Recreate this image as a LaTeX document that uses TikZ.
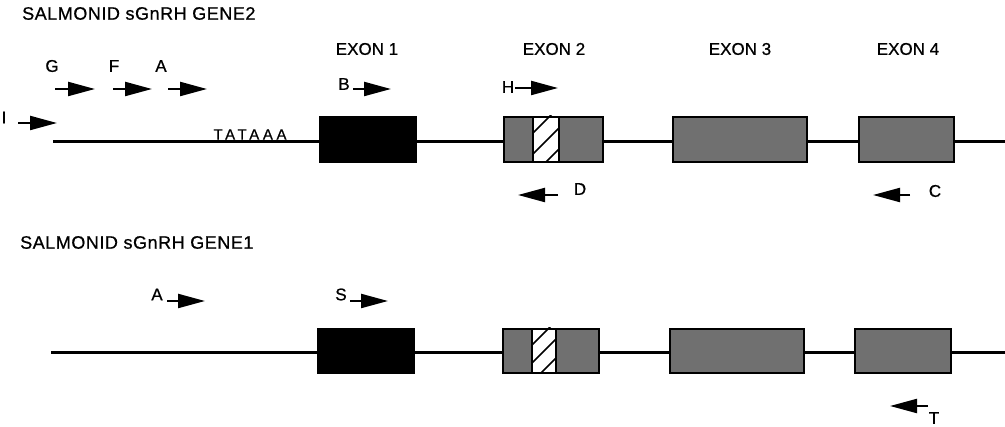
\documentclass[tikz,border=0pt]{standalone}
\usepackage{fontspec}
\setmainfont{Liberation Sans}[FakeBold=0.7]
\usetikzlibrary{arrows.meta,calc}
\begin{document}
\begin{tikzpicture}[x=1pt,y=-1pt,
  gene/.style={line width=3pt},
  exonbox/.style={draw=black, line width=2pt, anchor=north west, inner sep=0pt, minimum height=45pt},
  coding/.style={exonbox, fill=black},
  stipple/.style={exonbox, fill=black!56},
  stripe/.style={draw=black, line width=1.6pt, fill=white, anchor=north west, inner sep=0pt, minimum height=45pt, minimum width=26pt},
  hatch/.style={line width=1.6pt},
  primer/.style={line width=2.2pt, -{Triangle[length=27pt,width=14pt]}},
  lbl/.style={inner sep=0pt, font=\fontsize{17}{17}\selectfont},
  title/.style={inner sep=0pt, anchor=west, font=\fontsize{18}{18}\selectfont\addfontfeature{LetterSpace=3}},
]
\useasboundingbox (0,0) rectangle (1005,427);

% ---------------- gene 2 ----------------
\node[title] (t2) at (22,13.5) {SALMONID sGnRH GENE2};

\node[lbl] (x1) at (367,49) {EXON 1};
\node[lbl] (x2) at (554,49) {EXON 2};
\node[lbl] (x3) at (740,49) {EXON 3};
\node[lbl] (x4) at (908,49) {EXON 4};

\coordinate (g2a) at (53,142);
\coordinate (g2b) at (1005,142);
\draw[gene] (g2a) -- (g2b);

\node[inner sep=0pt, font=\fontsize{15}{15}\selectfont\addfontfeature{LetterSpace=24}] (tata) at (250,134.5) {TATAAA};

\node[coding, minimum width=96pt] (g2e1) at (319,116) {};
\node[stipple, minimum width=99pt] (g2e2) at (503,116) {};
\node[stripe] (g2s) at (532,116) {};
\begin{scope}
  \clip (g2s.north west) rectangle (g2s.south east);
  \foreach \c in {18,39,60}
    \draw[hatch] ($(g2s.north west)+(-30,\c+30)$) -- ($(g2s.north west)+(60,\c-60)$);
\end{scope}
\node[stipple, minimum width=134pt] (g2e3) at (672,116) {};
\node[stipple, minimum width=95pt] (g2e4) at (858,116) {};

% forward primers
\node[lbl] (lG) at (52,66) {G};
\node[lbl] (lF) at (114,66) {F};
\node[lbl] (lA2) at (161,66) {A};
\node[lbl] (lI) at (4,117.5) {I};
\node[lbl] (lB) at (344,84) {B};
\node[lbl] (lH) at (508,87) {H};
\coordinate (gT) at (55,89);  \coordinate (gH) at (95,89);
\coordinate (fT) at (113,89); \coordinate (fH) at (152,89);
\coordinate (aT) at (168,89); \coordinate (aH) at (207,89);
\coordinate (iT) at (18,123); \coordinate (iH) at (57,123);
\coordinate (bT) at (353,89); \coordinate (bH) at (391,89);
\coordinate (hT) at (515,88); \coordinate (hH) at (558,88);
\draw[primer] (gT) -- (gH);
\draw[primer] (fT) -- (fH);
\draw[primer] (aT) -- (aH);
\draw[primer] (iT) -- (iH);
\draw[primer] (bT) -- (bH);
\draw[primer] (hT) -- (hH);

% reverse primers
\node[lbl] (lD) at (580,189) {D};
\node[lbl] (lC) at (935,191) {C};
\coordinate (dT) at (558,195); \coordinate (dH) at (518,195);
\coordinate (cT) at (910,195); \coordinate (cH) at (873,195);
\draw[primer] (dT) -- (dH);
\draw[primer] (cT) -- (cH);

% ---------------- gene 1 ----------------
\node[title] (t1) at (20,242.5) {SALMONID sGnRH GENE1};

\coordinate (g1a) at (51,353);
\coordinate (g1b) at (1005,353);
\draw[gene] (g1a) -- (g1b);

\node[coding, minimum width=96pt, minimum height=44pt] (g1e1) at (317,328) {};
\node[stipple, minimum width=96pt, minimum height=44pt] (g1e2) at (502,328) {};
\node[stripe, minimum width=24pt, minimum height=44pt] (g1s) at (531,328) {};
\begin{scope}
  \clip (g1s.north west) rectangle (g1s.south east);
  \foreach \c in {18,36,55}
    \draw[hatch] ($(g1s.north west)+(-30,\c+30)$) -- ($(g1s.north west)+(60,\c-60)$);
\end{scope}
\node[stipple, minimum width=134pt, minimum height=44pt] (g1e3) at (669,328) {};
\node[stipple, minimum width=96pt, minimum height=44pt] (g1e4) at (854,328) {};

\node[lbl] (lA1) at (157,294.5) {A};
\node[lbl] (lS) at (341,294.5) {S};
\node[lbl] (lT) at (934,418) {T};
\coordinate (a1T) at (167,301); \coordinate (a1H) at (205,301);
\coordinate (sT) at (350,301);  \coordinate (sH) at (388,301);
\coordinate (tT) at (928,406);  \coordinate (tH) at (890,406);
\draw[primer] (a1T) -- (a1H);
\draw[primer] (sT) -- (sH);
\draw[primer] (tT) -- (tH);
\end{tikzpicture}
\end{document}
